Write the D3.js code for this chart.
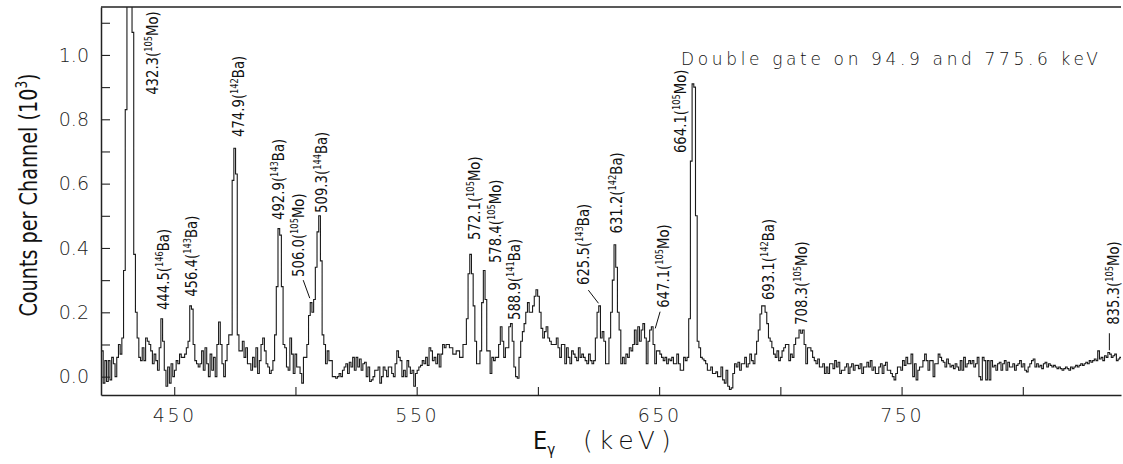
<!DOCTYPE html>
<html><head><meta charset="utf-8">
<script src="https://cdn.jsdelivr.net/npm/d3@7"></script>
<style>
html,body{margin:0;padding:0;background:#fff;}
svg{display:block;}
.narrow{font-family:"Liberation Sans Narrow","DejaVu Sans Condensed","DejaVu Sans",sans-serif;font-stretch:condensed;}
.wide{font-family:"DejaVu Sans",sans-serif;font-weight:200;}
</style></head><body>
<svg id="chart" width="1123" height="464"></svg>
<script>
// ---- data ----
const binStart = 420.0;   // keV, lower edge of first channel
const binWidth = 0.7;     // keV per channel
const counts = [
 0.08,-0.02,0.05,-0.015,0.05,-0.01,0.06,0.04,0.0,0.06,
 0.1,0.07,0.12,0.33,0.83,1.3,1.5,1.3,1.07,0.38,
 0.2,0.12,0.06,0.05,0.09,0.05,0.12,0.11,0.1,0.08,
 0.04,0.07,0.05,0.02,0.09,0.18,0.11,0.02,-0.03,0.03,
 -0.02,0.04,0.0,0.02,0.05,0.04,0.07,0.06,0.06,0.07,
 0.09,0.11,0.22,0.21,0.1,0.05,0.04,0.03,0.04,0.08,
 0.02,0.09,0.04,0.0,0.07,0.02,0.06,0.0,0.1,0.17,
 0.1,0.04,0.0,0.05,0.1,0.13,0.13,0.61,0.71,0.63,
 0.13,0.08,0.08,0.11,0.06,0.09,0.04,0.04,0.02,0.06,
 0.03,0.09,0.01,0.05,0.1,0.12,0.08,0.04,0.03,0.01,
 0.02,0.05,0.13,0.28,0.46,0.44,0.28,0.1,0.09,0.03,
 0.02,0.12,0.07,0.01,0.07,0.03,0.03,0.01,-0.02,0.06,
 0.06,0.1,0.19,0.23,0.2,0.24,0.34,0.45,0.5,0.36,
 0.13,0.1,0.04,0.08,0.05,0.05,0.0,0.0,-0.005,0.0,
 0.01,0.0,0.02,0.03,0.04,0.01,0.045,0.03,0.06,0.02,
 0.06,0.03,0.055,0.02,0.04,0.045,0.0,0.03,-0.015,-0.01,
 0.0,0.02,0.02,0.03,-0.02,0.0,0.03,0.02,0.0,0.03,
 0.03,0.01,0.0,0.04,0.08,0.06,0.05,0.0,0.02,0.0,
 0.05,0.03,0.01,0.02,-0.03,0.01,0.02,0.03,0.035,0.05,
 0.04,0.06,0.035,0.09,0.08,0.05,0.06,0.04,0.07,0.03,
 0.07,0.1,0.09,0.1,0.1,0.09,0.09,0.07,0.07,0.08,
 0.08,0.06,0.06,0.1,0.1,0.18,0.32,0.38,0.32,0.22,
 0.11,0.04,0.04,0.08,0.23,0.33,0.24,0.08,0.08,0.01,
 0.06,0.05,0.06,0.06,0.1,0.155,0.11,0.06,0.09,0.09,
 0.155,0.165,0.11,0.03,0.0,-0.005,0.06,0.11,0.14,0.165,
 0.2,0.23,0.2,0.2,0.22,0.25,0.27,0.25,0.2,0.15,
 0.12,0.14,0.155,0.12,0.11,0.1,0.1,0.1,0.12,0.09,
 0.06,0.1,0.1,0.04,0.09,0.06,0.04,0.08,0.07,0.06,
 0.05,0.09,0.06,0.07,0.06,0.05,0.04,0.07,0.05,0.04,
 0.05,0.12,0.2,0.22,0.12,0.14,0.11,0.04,0.04,0.12,
 0.2,0.3,0.41,0.34,0.2,0.145,0.04,0.06,0.04,0.07,
 0.06,0.09,0.08,0.1,0.145,0.1,0.155,0.11,0.145,0.165,
 0.12,0.04,0.11,0.145,0.155,0.1,0.04,0.08,0.08,0.07,
 0.06,0.05,0.06,0.04,0.055,0.05,0.06,0.04,0.04,0.07,
 0.04,0.02,0.02,0.06,0.05,0.06,0.18,0.67,0.91,0.9,
 0.5,0.11,0.09,0.06,0.055,0.05,0.04,0.02,0.02,0.03,
 0.01,0.01,0.015,0.0,0.0,0.03,-0.01,-0.02,0.02,-0.03,
 -0.04,-0.035,0.01,0.04,0.03,0.045,0.02,0.04,0.04,0.06,
 0.03,0.04,0.07,0.05,0.04,0.07,0.11,0.145,0.195,0.22,
 0.22,0.2,0.165,0.12,0.11,0.09,0.07,0.06,0.08,0.05,
 0.06,0.08,0.09,0.1,0.1,0.05,0.07,0.06,0.1,0.12,
 0.12,0.145,0.135,0.145,0.1,0.04,0.09,0.09,0.08,0.06,
 0.05,0.04,0.055,0.03,0.03,0.04,0.01,0.03,0.01,0.04,
 0.04,0.025,0.05,0.03,0.045,0.01,0.02,0.02,0.03,0.04,
 0.01,0.03,0.04,0.02,0.035,0.035,0.025,0.04,0.01,0.03,
 0.03,0.045,0.03,0.05,0.02,0.03,0.01,0.01,0.03,0.04,
 0.01,0.035,0.045,0.02,0.02,0.01,0.0,-0.01,0.01,0.03,
 0.03,0.02,0.05,0.035,0.06,0.04,0.04,0.07,0.0,0.04,
 -0.01,0.02,0.03,0.03,0.05,0.07,0.05,0.02,0.05,0.05,
 0.0,0.04,0.04,0.07,0.06,0.05,0.045,0.03,0.055,0.04,
 0.03,0.035,0.025,0.04,0.03,0.02,0.05,0.02,0.06,0.03,
 0.04,0.05,0.04,0.05,0.03,0.04,0.06,0.0,-0.01,0.06,
 0.05,-0.01,0.05,-0.01,0.05,0.03,0.035,0.02,0.04,0.045,
 0.02,0.04,0.05,0.02,0.045,0.03,0.03,0.04,0.02,0.035,
 0.04,0.05,0.03,0.04,0.02,0.015,0.03,0.04,0.05,0.055,
 0.03,0.04,0.03,0.035,0.025,0.04,0.045,0.03,0.04,0.035,
 0.03,0.035,0.03,0.025,0.03,0.025,0.02,0.025,0.03,0.025,
 0.02,0.03,0.025,0.03,0.035,0.03,0.035,0.04,0.035,0.04,
 0.045,0.04,0.05,0.045,0.05,0.055,0.05,0.08,0.055,0.06,
 0.05,0.065,0.06,0.075,0.07,0.06,0.065,0.07,0.05,0.055,
 0.06
];

const xTicks = [450, 500, 550, 600, 650, 700, 750, 800];
const xTickLabels = ["450", "", "550", "", "650", "", "750", ""];
const yTicks = [0.0, 0.1, 0.2, 0.3, 0.4, 0.5, 0.6, 0.7, 0.8, 0.9, 1.0, 1.1];
const yTickLabels = ["0.0", "", "0.2", "", "0.4", "", "0.6", "", "0.8", "", "1.0", ""];

const peakEnergies = ["432.3","444.5","456.4","474.9","492.9","506.0","509.3","572.1","578.4","588.9","625.5","631.2","647.1","664.1","693.1","708.3","835.3"];
const peakMass     = ["105","146","143","142","143","105","144","105","105","141","143","142","105","105","142","105","105"];
const peakElement  = ["Mo","Ba","Ba","Ba","Ba","Mo","Ba","Mo","Mo","Ba","Ba","Ba","Mo","Mo","Ba","Mo","Mo"];
// label anchor (energy of text baseline, count at text start), in data units
const labelEnergy  = [443.3,447.8,459.4,478.8,495.3,503.5,513.0,576.3,584.6,592.8,621.1,634.7,654.1,660.9,697.4,711.0,839.7];
const labelCount   = [0.876,0.207,0.248,0.745,0.487,0.310,0.509,0.425,0.353,0.176,0.285,0.445,0.214,0.695,0.238,0.161,0.161];
// leader lines [E1, c1, E2, c2]
const leaders = [[503.2,0.30,505.9,0.244],[620.8,0.269,625.0,0.228],[650.4,0.202,648.4,0.15],[835.7,0.135,835.7,0.082]];

const gateText = "Double gate on 94.9 and 775.6 keV";
const yTitle = "Counts per Channel (10";
const yTitleSup = "3";

// ---- drawing ----
const svg = d3.select("#chart");
const mL = 101, mR = 1121, mT = 7, mB = 395;

const x = d3.scaleLinear().domain([419.8, 840.5]).range([mL, mR]);
const y = d3.scaleLinear().domain([-0.057, 1.149]).range([mB, mT]);

svg.append("defs").append("clipPath").attr("id","clip")
  .append("rect").attr("x",mL).attr("y",mT).attr("width",mR-mL).attr("height",mB-mT);

// spectrum
const pts = counts.map((c,i)=>[binStart + i*binWidth, c]);
pts.push([binStart + counts.length*binWidth, counts[counts.length-1]]);
const line = d3.line().x(d=>x(d[0])).y(d=>y(d[1])).curve(d3.curveStepAfter);
svg.append("path").attr("clip-path","url(#clip)")
  .attr("d", line(pts)).attr("fill","none").attr("stroke","#1a1a1a").attr("stroke-width",1.1);

// frame top
svg.append("line").attr("x1",mL).attr("x2",mR).attr("y1",mT).attr("y2",mT).attr("stroke","#222").attr("stroke-width",1.3);

// axes
const xAxis = d3.axisBottom(x).tickValues(xTicks).tickSizeInner(-8).tickSizeOuter(0)
  .tickPadding(14).tickFormat((d,i)=>xTickLabels[i]);
const gx = svg.append("g").attr("transform",`translate(0,${mB})`).call(xAxis);
gx.select(".domain").attr("stroke","#222").attr("stroke-width",1.5);
gx.selectAll(".tick line").attr("stroke","#222").attr("stroke-width",1.1);
gx.selectAll(".tick text").attr("class","wide").attr("font-size",19).attr("letter-spacing","2.5px").attr("fill","#222");

const yAxis = d3.axisLeft(y).tickValues(yTicks).tickSizeInner(-9).tickSizeOuter(0)
  .tickPadding(12).tickFormat((d,i)=>yTickLabels[i]);
const gy = svg.append("g").attr("transform",`translate(${mL},0)`).call(yAxis);
gy.select(".domain").attr("stroke","#222").attr("stroke-width",1.5);
gy.selectAll(".tick line").attr("stroke","#222").attr("stroke-width",1.1);
gy.selectAll(".tick text").attr("class","wide").attr("font-size",19).attr("fill","#222");

// peak labels
peakEnergies.forEach((e,i)=>{
  const t = svg.append("text").attr("class","narrow")
    .attr("transform",`translate(${x(labelEnergy[i])},${y(labelCount[i])}) rotate(-90) scale(0.92,1)`)
    .attr("font-size",16).attr("fill","#111");
  t.append("tspan").text(e + "(");
  t.append("tspan").attr("font-size",10).attr("dy","-6").text(peakMass[i]);
  t.append("tspan").attr("dy","6").text(peakElement[i] + ")");
});
leaders.forEach(l=>{
  svg.append("line").attr("x1",x(l[0])).attr("y1",y(l[1])).attr("x2",x(l[2])).attr("y2",y(l[3]))
    .attr("stroke","#111").attr("stroke-width",1);
});

// gate text
svg.append("text").attr("class","wide").attr("x",681).attr("y",65)
  .attr("font-size",17).attr("letter-spacing","3.65px").attr("fill","#111").text(gateText);

// y title
const yt = svg.append("text").attr("class","narrow")
  .attr("transform",`translate(37,195) rotate(-90) scale(0.89,1)`).attr("text-anchor","middle")
  .attr("font-size",24).attr("fill","#111");
yt.append("tspan").text(yTitle);
yt.append("tspan").attr("font-size",15).attr("dy","-10").text(yTitleSup);
yt.append("tspan").attr("dy","10").text(")");

// x title
const xt = svg.append("text").attr("class","narrow").attr("x",533).attr("y",449)
  .attr("font-size",25).attr("fill","#111");
xt.append("tspan").text("E");
xt.append("tspan").attr("font-size",15).attr("dy","6").text("γ");
svg.append("text").attr("class","wide").attr("x",583).attr("y",449)
  .attr("font-size",25).attr("letter-spacing","6px").attr("fill","#111").text("(keV)");
</script>
</body></html>
